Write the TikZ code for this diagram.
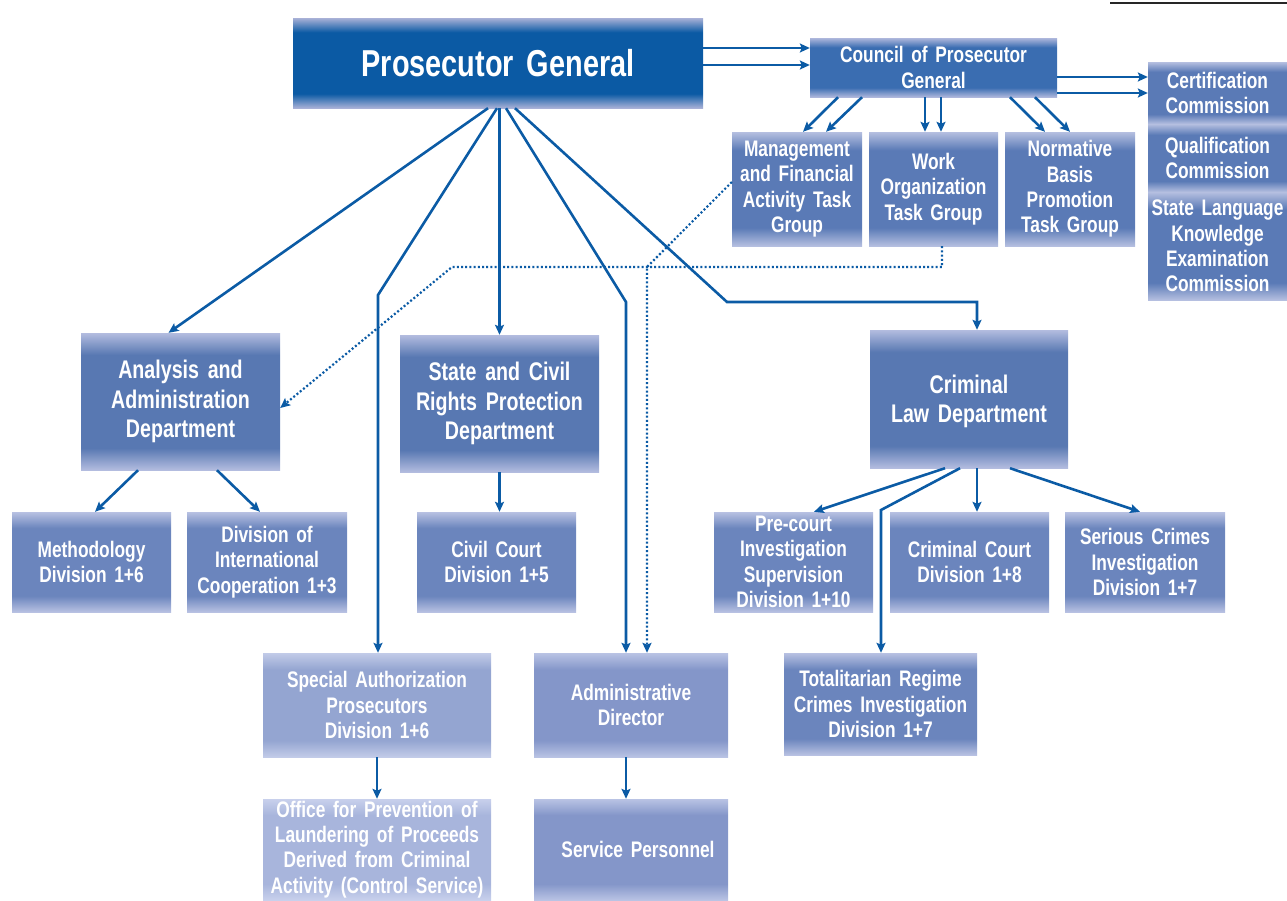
\documentclass[tikz,border=0pt]{standalone}
\usepackage{fontspec}
\newfontfamily\cf{Liberation Sans}[FakeStretch=0.77,WordSpace=1.6]
\usetikzlibrary{arrows.meta}
\colorlet{mainc}{blue}
\colorlet{lightc}{white}
\pgfdeclareverticalshading[mainc,lightc]{boxshade}{100bp}{color(0bp)=(lightc); color(25bp)=(lightc); color(33bp)=(mainc); color(67bp)=(mainc); color(75bp)=(lightc); color(100bp)=(lightc)}
\definecolor{lnc}{HTML}{0B5BA5}
\definecolor{pgm}{HTML}{0B5AA4}\definecolor{pgl}{HTML}{A9B1D7}
\definecolor{cnm}{HTML}{3A6DB1}\definecolor{cnl}{HTML}{AEB7DC}
\definecolor{tkm}{HTML}{5A7AB6}\definecolor{tkl}{HTML}{B5BFE0}
\definecolor{dpm}{HTML}{5878B2}\definecolor{dpl}{HTML}{B3BCDF}
\definecolor{dvm}{HTML}{6B85BD}\definecolor{dvl}{HTML}{B8C1E2}
\definecolor{spm}{HTML}{94A5D1}\definecolor{spl}{HTML}{C2CBE8}
\definecolor{ofm}{HTML}{A8B5DC}\definecolor{ofl}{HTML}{C8D0EC}
\definecolor{adm}{HTML}{8496C9}\definecolor{adl}{HTML}{B9C3E4}
\tikzset{
  bx/.style 2 args={rectangle, inner sep=0pt, align=center, text=white, shade, shading=boxshade,
    /utils/exec={\colorlet{mainc}{#1}\colorlet{lightc}{#2}},
    font=\cf\bfseries\fontsize{22.5}{25.3}\selectfont},
  sz/.style 2 args={minimum width=#1 pt, minimum height=#2 pt},
  dept/.style={bx={dpm}{dpl}, font=\cf\bfseries\fontsize{25.5}{29.5}\selectfont},
  conn/.style={draw=lnc, line width=2.6pt, -{Stealth[length=10pt,width=9pt,inset=2pt]}},
  dotc/.style={draw=lnc, line width=2.2pt, dash pattern=on 2pt off 2.2pt, -{Stealth[length=10pt,width=9pt,inset=2pt]}},
}
\begin{document}
\begin{tikzpicture}[x=1pt,y=-1pt]
\useasboundingbox (0,0) rectangle (1287,900);
% top rule
\coordinate (r1) at (1110,3);
\coordinate (r2) at (1287,3);
\draw[line width=2pt, color=black!85] (r1) -- (r2);

% boxes
\node[bx={pgm}{pgl}, sz={410}{90}, font=\cf\bfseries\fontsize{37.5}{40}\selectfont] (pg) at (498,63) {Prosecutor General};
\node[bx={cnm}{cnl}, sz={247}{59}] (council) at (933.5,67.5) {Council of Prosecutor\\General};
\node[bx={tkm}{tkl}, sz={139}{62}] (cert) at (1217.5,93) {Certification\\Commission};
\node[bx={tkm}{tkl}, sz={139}{68}] (qual) at (1217.5,158) {Qualification\\Commission};
\node[bx={tkm}{tkl}, sz={139}{108}] (lang) at (1217.5,246) {State Language\\Knowledge\\Examination\\Commission};

\node[bx={tkm}{tkl}, sz={130}{114}] (mgmt) at (797,189) {Management\\and Financial\\Activity Task\\Group};
\node[bx={tkm}{tkl}, sz={129}{114}] (work) at (933.5,189) {Work\\Organization\\Task Group};
\node[bx={tkm}{tkl}, sz={130}{114}] (norm) at (1070,189) {Normative\\Basis\\Promotion\\Task Group};

\node[dept, sz={199}{137}] (anal) at (180.5,401.5) {Analysis and\\Administration\\Department};
\node[dept, sz={199}{137}] (state) at (499.5,403.5) {State and Civil\\Rights Protection\\Department};
\node[dept, sz={198}{138}, text depth=-5pt] (crim) at (969,399) {Criminal\\Law Department};

\node[bx={dvm}{dvl}, sz={159}{100}] (meth) at (91.5,562) {Methodology\\Division 1+6};
\node[bx={dvm}{dvl}, sz={160}{100}] (intl) at (267,562) {Division of\\International\\Cooperation 1+3};
\node[bx={dvm}{dvl}, sz={159}{100}] (civil) at (496.5,562) {Civil Court\\Division 1+5};
\node[bx={dvm}{dvl}, sz={159}{100}] (pre) at (793.5,562) {Pre-court\\Investigation\\Supervision\\Division 1+10};
\node[bx={dvm}{dvl}, sz={159}{100}] (crimc) at (969.5,562) {Criminal Court\\Division 1+8};
\node[bx={dvm}{dvl}, sz={160}{100}] (serious) at (1145,562) {Serious Crimes\\Investigation\\Division 1+7};

\node[bx={spm}{spl}, sz={228}{104}] (spec) at (377,705) {Special Authorization\\Prosecutors\\Division 1+6};
\node[bx={adm}{adl}, sz={194}{104}] (adir) at (631,705) {Administrative\\Director};
\node[bx={dvm}{dvl}, sz={193}{102}] (total) at (880.5,704) {Totalitarian Regime\\Crimes Investigation\\Division 1+7};
\node[bx={ofm}{ofl}, sz={228}{101}] (office) at (377,849.5) {Office for Prevention of\\Laundering of Proceeds\\Derived from Criminal\\Activity (Control Service)};
\node[bx={adm}{adl}, sz={194}{101}] (serv) at (631,849.5) {\hspace*{14pt}Service Personnel};

% PG -> Council
\draw[conn] ([yshift=15pt]pg.east) -- ([yshift=15pt]pg.east -| council.west);
\draw[conn] ([yshift=-2pt]pg.east) -- ([yshift=-2pt]pg.east -| council.west);
% Council -> Certification
\draw[conn] ([yshift=-9.5pt]council.east) -- ([yshift=-9.5pt]council.east -| cert.west);
\draw[conn] ([yshift=-25.5pt]council.east) -- ([yshift=-25.5pt]council.east -| cert.west);
% Council -> task groups
\draw[conn] ([xshift=-95.5pt]council.south) -- ([xshift=6pt]mgmt.north);
\draw[conn] ([xshift=-71.5pt]council.south) -- ([xshift=29pt]mgmt.north);
\draw[conn] ([xshift=-8.5pt]council.south) -- ([xshift=-8.5pt]work.north);
\draw[conn] ([xshift=7.5pt]council.south) -- ([xshift=7.5pt]work.north);
\draw[conn] ([xshift=76.5pt]council.south) -- ([xshift=-25pt]norm.north);
\draw[conn] ([xshift=101.5pt]council.south) -- (norm.north);

% PG -> departments
\coordinate (k2) at (378,295);
\coordinate (k4) at (626,302);
\coordinate (k5) at (727,302);
\draw[conn] ([xshift=-10pt]pg.south) -- ([xshift=-12pt]anal.north);
\draw[conn] ([xshift=-1pt]pg.south) -- (k2) -- (k2 |- spec.north);
\draw[conn] (state.north |- pg.south) -- (state.north);
\draw[conn] ([xshift=8pt]pg.south) -- (k4) -- ([xshift=-5pt]adir.north);
\draw[conn] ([xshift=17pt]pg.south) -- (k5) -| ([xshift=8pt]crim.north);

% department -> divisions
\draw[conn] ([xshift=-42.5pt]anal.south) -- ([xshift=3.5pt]meth.north);
\draw[conn] ([xshift=36.5pt]anal.south) -- ([xshift=-7pt]intl.north);
\draw[conn] (state.south) -- (state.south |- civil.north);
\draw[conn] ([xshift=-24pt]crim.south) -- ([xshift=20.5pt]pre.north);
\coordinate (kt) at (881,510);
\draw[conn] ([xshift=-9pt]crim.south) -- (kt) -- (kt |- total.north);
\draw[conn] ([xshift=8pt]crim.south) -- ([xshift=8pt]crim.south |- crimc.north);
\draw[conn] ([xshift=41pt]crim.south) -- ([xshift=-5pt]serious.north);
\draw[conn] (spec.south) -- (office.north);
\draw[conn] ([xshift=-5pt]adir.south) -- ([xshift=-5pt]serv.north);

% dotted connectors
\coordinate (d1) at (647,267);
\coordinate (d2) at (942,267);
\coordinate (d3) at (452,267);
\draw[dotc] ([yshift=7pt]mgmt.west) -- (d1) -- ([xshift=16pt]adir.north);
\draw[dotc] ([xshift=8.5pt]work.south) -- (d2) -- (d3) -- ([yshift=-6.5pt]anal.east);
\end{tikzpicture}
\end{document}
